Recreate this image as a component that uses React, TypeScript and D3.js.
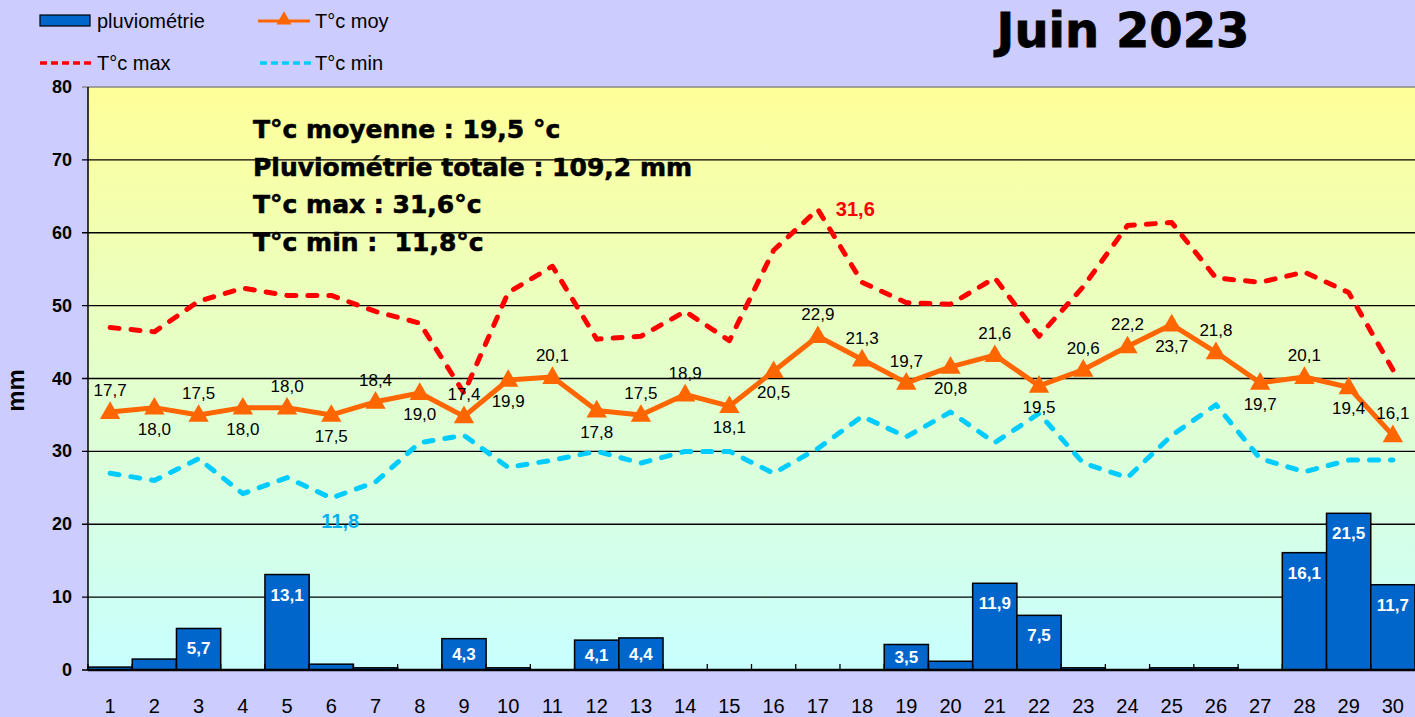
import React, { useEffect } from 'react';
import * as d3 from 'd3';

// juin 2023 - relevés journaliers
const days = d3.range(1, 31).map(String);
const pluvio = [0.4, 1.5, 5.7, 0, 13.1, 0.8, 0.3, 0, 4.3, 0.3, 0, 4.1, 4.4, 0, 0, 0, 0, 0, 3.5, 1.2, 11.9, 7.5, 0.3, 0, 0.3, 0.3, 0, 16.1, 21.5, 11.7];
const tMoy = [17.7, 18.0, 17.5, 18.0, 18.0, 17.5, 18.4, 19.0, 17.4, 19.9, 20.1, 17.8, 17.5, 18.9, 18.1, 20.5, 22.9, 21.3, 19.7, 20.8, 21.6, 19.5, 20.6, 22.2, 23.7, 21.8, 19.7, 20.1, 19.4, 16.1];
const tMax = [23.5, 23.2, 25.3, 26.2, 25.7, 25.7, 24.6, 23.8, 19.0, 25.9, 27.7, 22.7, 22.9, 24.6, 22.6, 28.8, 31.6, 26.6, 25.2, 25.1, 26.9, 22.9, 26.3, 30.5, 30.7, 26.9, 26.6, 27.3, 25.9, 20.6];
const tMin = [13.5, 13.0, 14.5, 12.1, 13.2, 11.8, 12.9, 15.6, 16.1, 13.9, 14.4, 15.0, 14.2, 15.0, 15.0, 13.5, 15.2, 17.4, 16.0, 17.7, 15.6, 17.6, 14.2, 13.2, 16.1, 18.2, 14.5, 13.6, 14.4, 14.4];
const mmTicks = [0, 10, 20, 30, 40, 50, 60, 70, 80];
// a = étiquette au-dessus, b = en dessous
const moyLabelPos = 'ababababababaabbaaababaababab'.split('').concat(['a']);
const stats = [
  'T°c moyenne : 19,5 °c',
  'Pluviométrie totale : 109,2 mm',
  'T°c max : 31,6°c',
  'T°c min :  11,8°c',
];

const fmt = (v: number) => v.toFixed(1).replace('.', ',');

const W = 1415;
const H = 717;
const left = 88;
const right = 1415;
const top = 87;
const bottom = 670;

const ARIAL = 'Liberation Sans, Arial, sans-serif';
const WIDE = 'DejaVu Sans, Verdana, sans-serif';

const App = () => {
  useEffect(() => {
    document.body.style.margin = '0';
  }, []);

  const x = d3.scaleBand().domain(days).range([left, right]).padding(0);
  const y = d3.scaleLinear().domain([0, 80]).range([bottom, top]);
  const yt = d3.scaleLinear().domain([0, 40]).range([bottom, top]);
  const cx = (i: number) => (x(days[i]) as number) + x.bandwidth() / 2;

  const line = (vals: number[]) =>
    d3.line<number>().x((_, i) => cx(i)).y(v => yt(v))(vals) || '';

  const tri = d3.symbol().type(d3.symbolTriangle).size(180)() || '';

  const iMax = tMax.indexOf(d3.max(tMax) as number);
  const iMin = tMin.indexOf(d3.min(tMin) as number);

  return (
    <svg width={W} height={H} style={{ display: 'block' }}>
      <defs>
        <linearGradient id="bg" x1="0" y1="0" x2="0" y2="1">
          <stop offset="0%" stopColor="#FFFF99" />
          <stop offset="100%" stopColor="#C8FFFF" />
        </linearGradient>
      </defs>
      <rect width={W} height={H} fill="#CCCCFF" />
      <rect x={left} y={top} width={right - left} height={bottom - top} fill="url(#bg)" />

      {/* grille */}
      {mmTicks.map(t => (
        <g key={t}>
          <line x1={left - 6} x2={right} y1={y(t)} y2={y(t)} stroke={t === 80 ? '#888' : '#000'} strokeWidth={1.3} />
          <text x={72} y={y(t) + 6} textAnchor="end" fontFamily={ARIAL} fontWeight="bold" fontSize={18}>{t}</text>
        </g>
      ))}
      <text transform={`translate(24,${(top + bottom) / 2 + 12}) rotate(-90)`} textAnchor="middle" fontFamily={ARIAL} fontWeight="bold" fontSize={24}>mm</text>

      {/* pluviométrie */}
      {pluvio.map((v, i) => v > 0 && (
        <rect key={i} x={x(days[i])} y={y(v)} width={x.bandwidth()} height={bottom - y(v)} fill="#0066CC" stroke="#000" strokeWidth={1.5} />
      ))}
      {pluvio.map((v, i) => v >= 3 && (
        <text key={i} x={cx(i)} y={y(v) + Math.min(20, (bottom - y(v)) / 2) + 6} textAnchor="middle" fill="#fff" fontFamily={ARIAL} fontWeight="bold" fontSize={17}>{fmt(v)}</text>
      ))}

      {/* axes */}
      <line x1={left} x2={left} y1={top} y2={bottom} stroke="#000" strokeWidth={1.5} />
      <line x1={left} x2={right} y1={bottom} y2={bottom} stroke="#000" strokeWidth={2.5} />
      {days.map(d => (
        <line key={d} x1={x(d)} x2={x(d)} y1={bottom} y2={bottom - 6} stroke="#000" strokeWidth={1.3} />
      ))}
      {days.map((d, i) => (
        <text key={d} x={cx(i)} y={713} textAnchor="middle" fontFamily={ARIAL} fontSize={20}>{d}</text>
      ))}

      {/* températures */}
      <path d={line(tMin)} fill="none" stroke="#00CCFF" strokeWidth={5} strokeDasharray="9 12" strokeLinecap="round" strokeLinejoin="round" />
      <path d={line(tMax)} fill="none" stroke="#FF0000" strokeWidth={5} strokeDasharray="9 12" strokeLinecap="round" strokeLinejoin="round" />
      <path d={line(tMoy)} fill="none" stroke="#FF6600" strokeWidth={5} strokeLinejoin="round" />
      {tMoy.map((v, i) => (
        <path key={i} d={tri} transform={`translate(${cx(i)},${yt(v) + 1})`} fill="#FF6600" />
      ))}
      {tMoy.map((v, i) => (
        <text key={i} x={cx(i)} y={moyLabelPos[i] === 'a' ? yt(v) - 16 : yt(v) + 27} textAnchor="middle" fontFamily={ARIAL} fontSize={17} fill="#000">{fmt(v)}</text>
      ))}
      <text x={cx(iMax) + 18} y={yt(tMax[iMax]) + 7} fontFamily={ARIAL} fontWeight="bold" fontSize={20} fill="#FF0000">{fmt(tMax[iMax])}</text>
      <text x={cx(iMin) + 9} y={yt(tMin[iMin]) + 30} textAnchor="middle" fontFamily={ARIAL} fontWeight="bold" fontSize={20} fill="#00B0F0">{fmt(tMin[iMin])}</text>

      {/* résumé */}
      {stats.map((s, i) => (
        <text key={i} x={253} y={138 + i * 37.5} fontFamily={WIDE} fontWeight="bold" fontSize={25} stroke="#000" strokeWidth={0.6} style={{ whiteSpace: 'pre' }}>{s}</text>
      ))}

      {/* titre */}
      <text x={1123} y={47} textAnchor="middle" fontFamily={WIDE} fontWeight="bold" fontSize={48} stroke="#000" strokeWidth={0.8}>Juin 2023</text>

      {/* légende */}
      <g fontFamily={ARIAL} fontSize={20}>
        <rect x={40} y={15} width={50} height={11} fill="#0066CC" stroke="#000" strokeWidth={1.2} />
        <text x={97} y={28}>pluviométrie</text>
        <line x1={258} x2={310} y1={21} y2={21} stroke="#FF6600" strokeWidth={3} />
        <path d={d3.symbol().type(d3.symbolTriangle).size(100)() || ''} transform="translate(284,20)" fill="#FF6600" />
        <text x={315} y={28}>T°c moy</text>
        <line x1={40} x2={91} y1={63} y2={63} stroke="#FF0000" strokeWidth={3.5} strokeDasharray="7 4" />
        <text x={97} y={70}>T°c max</text>
        <line x1={260} x2={311} y1={63} y2={63} stroke="#00CCFF" strokeWidth={3.5} strokeDasharray="7 4" />
        <text x={315} y={70}>T°c min</text>
      </g>
    </svg>
  );
};

export default App;
